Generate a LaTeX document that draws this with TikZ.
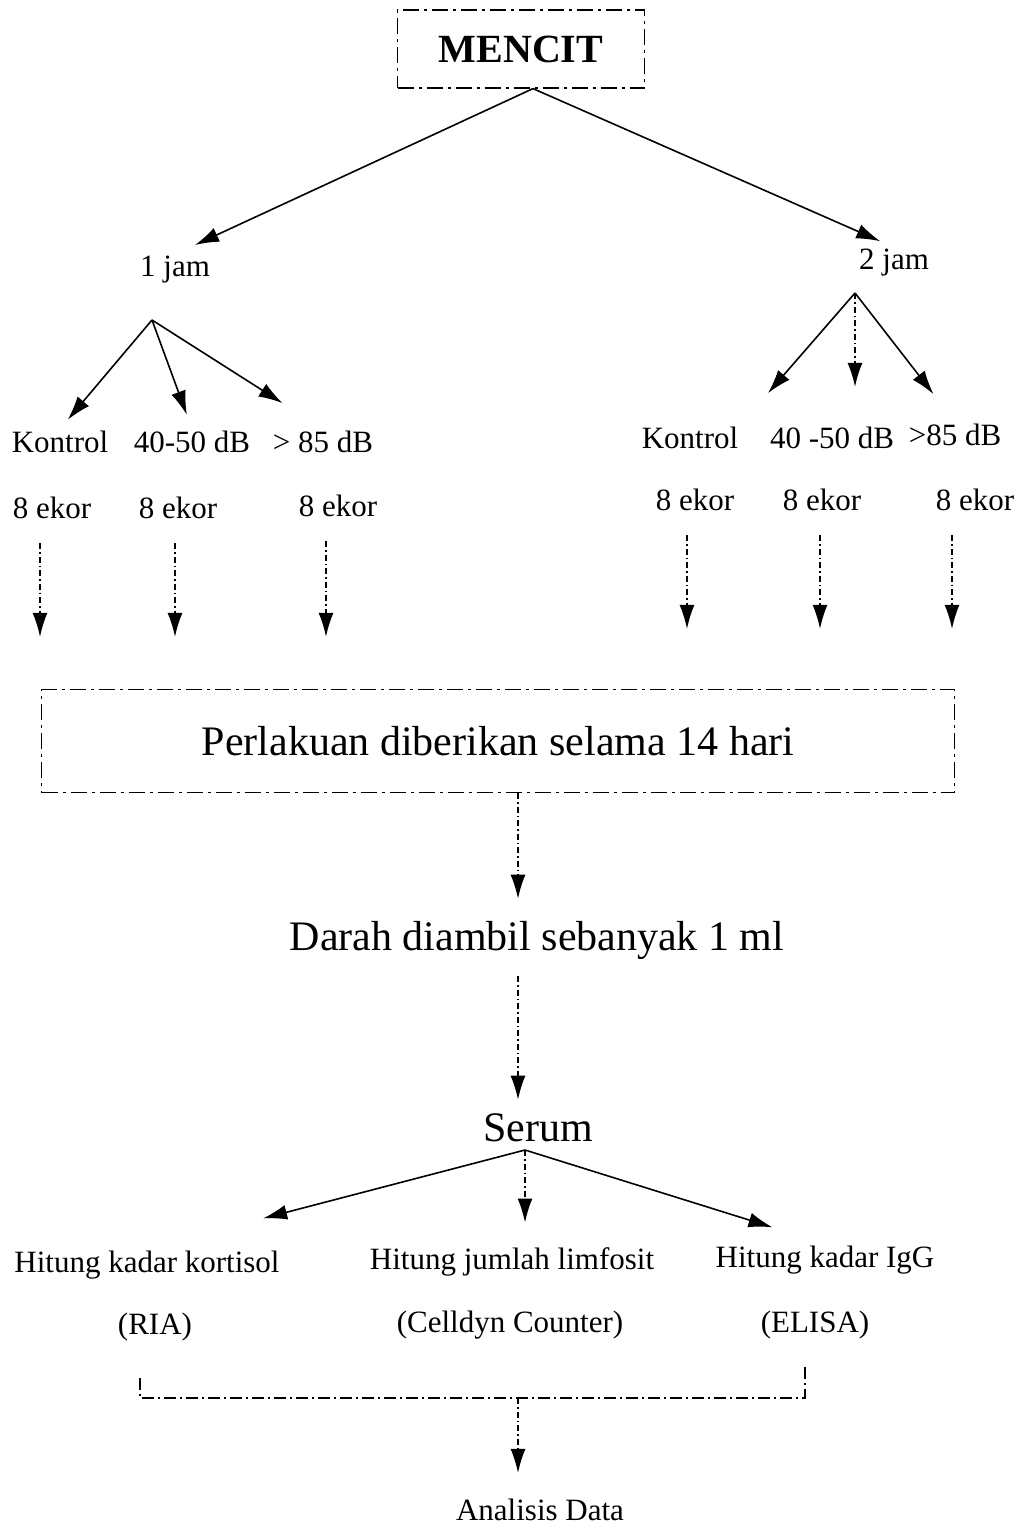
\documentclass[tikz,border=0pt]{standalone}
\usepackage{fontspec}
\setmainfont{Liberation Serif}
\usetikzlibrary{arrows.meta}
\tikzset{
  lbl/.style={font=\fontsize{31}{36}\selectfont, inner sep=2pt},
  biglbl/.style={font=\fontsize{42}{48}\selectfont, inner sep=2pt},
  arr/.style={line width=1.6pt, -{Latex[length=24pt,width=15pt]}},
  darr/.style={arr, dash pattern=on 6pt off 3pt on 1.5pt off 3pt},
  dbox/.style={draw, line width=1.2pt, dash pattern=on 16pt off 5pt on 3pt off 5pt},
}
\begin{document}
\begin{tikzpicture}[x=1pt,y=-1pt]
\useasboundingbox (0,0) rectangle (1020,1528);
% judul
\node[dbox, minimum width=247pt, minimum height=78pt, font=\fontsize{40}{46}\selectfont\bfseries] (mencit) at (521,49) {MENCIT};
\node[lbl] (j1) at (175,270) {1 jam};
\node[lbl] (j2) at (894,263) {2 jam};
\draw[arr, shorten >=22pt] ([xshift=12pt]mencit.south) -- (j1.north);
\draw[arr, shorten >=15pt] ([xshift=12pt]mencit.south) -- (j2.north);
% kelompok 1 jam
\coordinate (f1) at (152,320);
\node[lbl] (k1) at (60,442) {Kontrol};
\node[lbl] (k2) at (192,442) {40-50 dB};
\node[lbl] (k3) at (323,442) {> 85 dB};
\node[lbl] (e1) at (52,508) {8 ekor};
\node[lbl] (e2) at (178,508) {8 ekor};
\node[lbl] (e3) at (338,506) {8 ekor};
\draw[arr, shorten >=12pt] (f1) -- (k1.north);
\draw[arr, shorten >=15pt] (f1) -- (k2.north);
\draw[arr, shorten >=48pt] (f1) -- (k3.north);
% kelompok 2 jam
\coordinate (f2) at (855,293);
\node[lbl] (r1) at (690,438) {Kontrol};
\node[lbl] (r2) at (832,438) {40 -50 dB};
\node[lbl] (r3) at (955,435) {>85 dB};
\node[lbl] (g1) at (695,500) {8 ekor};
\node[lbl] (g2) at (822,500) {8 ekor};
\node[lbl] (g3) at (975,500) {8 ekor};
\draw[arr, shorten >=42pt] (f2) -- (r1.north east);
\draw[darr, shorten >=38pt] (f2) -- (f2 |- r2.north);
\draw[arr, shorten >=35pt] (f2) -- (r3.north);
% perlakuan
\node[dbox, biglbl, minimum width=913pt, minimum height=103pt] (pbox) at (498,741) {Perlakuan diberikan selama 14 hari};
\draw[darr, shorten <=22pt, shorten >=52pt] ([xshift=-12pt]e1.south) -- ([xshift=-12pt]e1.south |- pbox.north);
\draw[darr, shorten <=22pt, shorten >=52pt] ([xshift=-3pt]e2.south) -- ([xshift=-3pt]e2.south |- pbox.north);
\draw[darr, shorten <=22pt, shorten >=52pt] ([xshift=-12pt]e3.south) -- ([xshift=-12pt]e3.south |- pbox.north);
\draw[darr, shorten <=22pt, shorten >=60pt] ([xshift=-8pt]g1.south) -- ([xshift=-8pt]g1.south |- pbox.north);
\draw[darr, shorten <=22pt, shorten >=60pt] ([xshift=-2pt]g2.south) -- ([xshift=-2pt]g2.south |- pbox.north);
\draw[darr, shorten <=22pt, shorten >=60pt] ([xshift=-23pt]g3.south) -- ([xshift=-23pt]g3.south |- pbox.north);
% darah dan serum
\node[biglbl] (darah) at (537,940) {Darah diambil sebanyak 1 ml};
\node[biglbl] (serum) at (538,1128) {Serum};
\draw[darr, shorten >=20pt] ([xshift=20pt]pbox.south) -- ([xshift=-19pt]darah.north);
\draw[darr, shorten <=15pt, shorten >=12pt] ([xshift=-19pt]darah.south) -- ([xshift=-20pt]serum.north);
% pemeriksaan
\coordinate (f3) at (525,1150);
\node[lbl] (h1) at (147,1265) {Hitung kadar kortisol};
\node[lbl] (h2) at (512,1262) {Hitung jumlah limfosit};
\node[lbl] (h3) at (825,1260) {Hitung kadar IgG};
\node[lbl] (m1) at (155,1327) {(RIA)};
\node[lbl] (m2) at (510,1325) {(Celldyn Counter)};
\node[lbl] (m3) at (815,1325) {(ELISA)};
\draw[arr, shorten >=120pt] (f3) -- (h1.north);
\draw[darr, shorten >=23pt] (f3) -- (f3 |- h2.north);
\draw[arr, shorten >=55pt] (f3) -- (h3.north);
% analisis
\coordinate (b1) at (140,1378);
\coordinate (b2) at (140,1398);
\coordinate (b3) at (805,1398);
\coordinate (b4) at (805,1365);
\coordinate (b5) at (518,1398);
\draw[line width=1.2pt, dash pattern=on 12pt off 4pt on 2pt off 4pt] (b1) -- (b2) -- (b3) -- (b4);
\node[lbl] (data) at (540,1510) {Analisis Data};
\draw[darr, shorten >=24pt] (b5) -- (b5 |- data.north);
\end{tikzpicture}
\end{document}
